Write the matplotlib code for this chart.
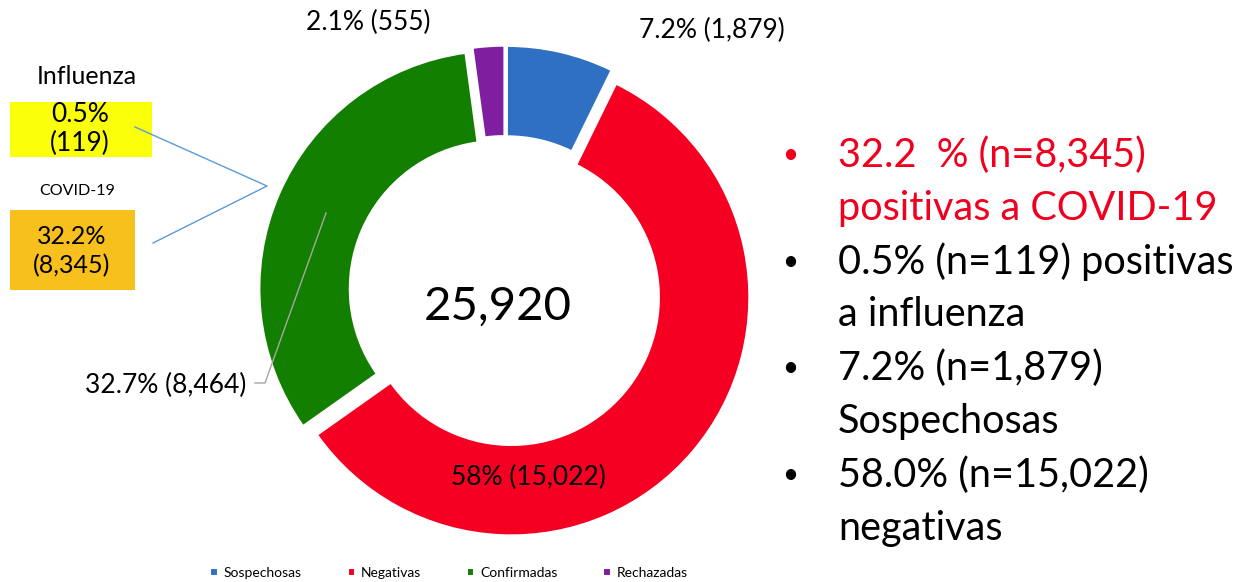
import matplotlib
matplotlib.use("Agg")
import matplotlib.pyplot as plt
from matplotlib.lines import Line2D
from matplotlib.patches import Rectangle

# data
categories = ['Sospechosas', 'Negativas', 'Confirmadas', 'Rechazadas']
counts = [1879, 15022, 8464, 555]
pct = ['7.2%', '58%', '32.7%', '2.1%']
colors = ['#3070C2', '#F50022', '#137F00', '#7F1FA0']

flu_pct, flu_n = '0.5%', 119
covid_pct, covid_n = '32.2%', 8345

bullets = [
    (['32.2  % (n=8,345)', 'positivas a COVID-19'], '#F0001E'),
    (['0.5% (n=119) positivas', 'a influenza'], 'black'),
    (['7.2% (n=1,879)', 'Sospechosas'], 'black'),
    (['58.0% (n=15,022)', 'negativas'], 'black'),
]

W, H = 1252, 582
fig = plt.figure(figsize=(W / 100, H / 100), dpi=100)
plt.rcParams['font.family'] = ['Lato', 'DejaVu Sans']


def px(x, y):
    return x / W, 1 - y / H


# donut axes, centre at (505, 292) px, radius 238 px
R = 238
cx, cy = 505, 292
side = 2.4 * R
ax = fig.add_axes([(cx - side / 2) / W, (H - cy - side / 2) / H, side / W, side / H])
wedges, _ = ax.pie(counts, colors=colors, startangle=90, counterclock=False,
                   radius=1, explode=[0.035] * 4,
                   wedgeprops=dict(width=0.38, edgecolor='white', linewidth=1.5))
ax.set_xlim(-1.2, 1.2)
ax.set_ylim(-1.2, 1.2)
ax.set_aspect('equal')
ax.axis('off')

ax.text(-0.03, -0.06, f'{sum(counts):,}', ha='center', va='center', fontsize=34)

# slice labels
lab_pos = [(712, 30), (528, 477), (166, 385), (368, 22)]
for (x, y), p, n in zip(lab_pos, pct, counts):
    fig.text(*px(x, y), f'{p} ({n:,})', ha='center', va='center', fontsize=19)

# leader line for Confirmadas
fig.add_artist(Line2D([255 / W, 265 / W, 326 / W], [1 - 383 / H, 1 - 383 / H, 1 - 213 / H],
                      transform=fig.transFigure, color='#A6A6A6', lw=1))

# left annotation boxes
fig.text(*px(87, 76), 'Influenza', ha='center', va='center', fontsize=18)
fig.add_artist(Rectangle(px(10, 157), 142 / W, 55 / H, transform=fig.transFigure,
                         facecolor='#FAFF0A', edgecolor='none'))
fig.text(*px(80, 129), f'{flu_pct}\n({flu_n})', ha='center', va='center',
         fontsize=19, linespacing=1.15)

fig.text(*px(77, 191), 'COVID-19', ha='center', va='center', fontsize=11.5)
fig.add_artist(Rectangle(px(10, 290), 125 / W, 80 / H, transform=fig.transFigure,
                         facecolor='#F8C01C', edgecolor='none'))
fig.text(*px(72, 251), f'{covid_pct}\n({covid_n:,})', ha='center', va='center',
         fontsize=18, linespacing=1.3)

fig.add_artist(Line2D([135 / W, 267 / W, 153 / W], [1 - 127 / H, 1 - 186 / H, 1 - 243 / H],
                      transform=fig.transFigure, color='#5B9BD5', lw=1))

# bullet text on the right
step = 53.3
k = 0
for lines, c in bullets:
    y0 = 155 + step * k
    fig.text(*px(790, y0), '\u2022', ha='center', va='center', fontsize=20, color=c)
    for ln in lines:
        fig.text(*px(838, 155 + step * k), ln, ha='left', va='center',
                 fontsize=28.5, color=c)
        k += 1

# legend
fig.legend(wedges, categories, loc='center', bbox_to_anchor=px(449, 573), ncol=4,
           frameon=False, fontsize=10, handlelength=0.55, handleheight=0.55,
           handletextpad=0.4, columnspacing=3.3)

fig.savefig('out.png', dpi=100)
